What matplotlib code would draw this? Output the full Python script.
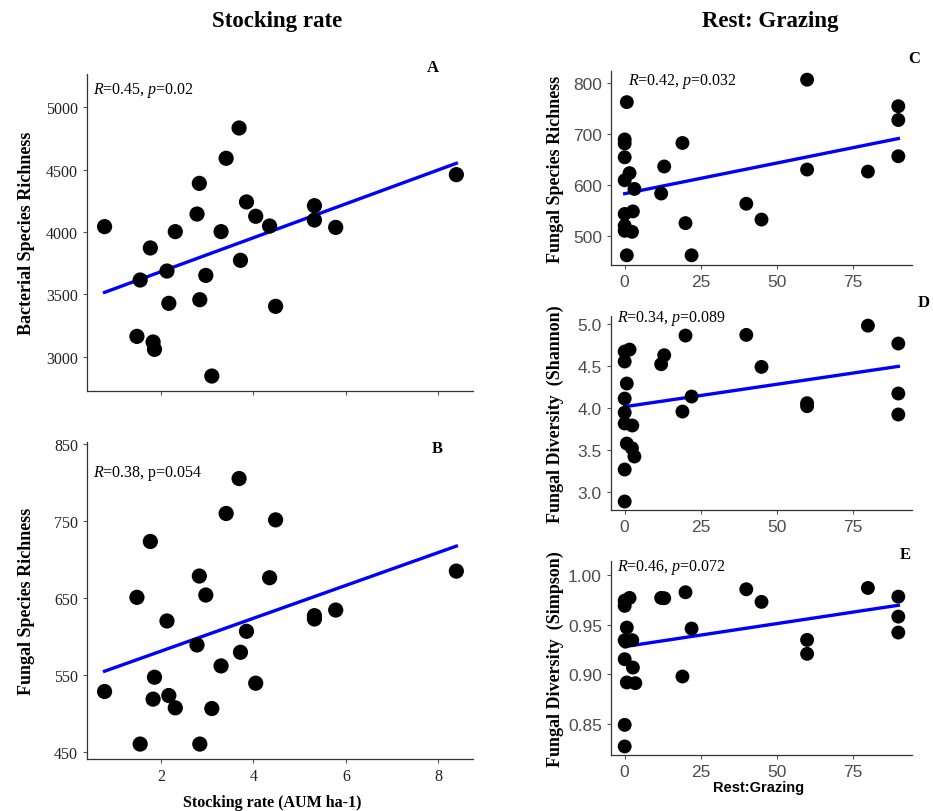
import numpy as np
import matplotlib
matplotlib.use("Agg")
import matplotlib.pyplot as plt

# ---- data ------------------------------------------------------------------
# stocking rate (AUM ha-1), panel A
stock_x = [0.78, 1.55, 1.48, 1.77, 1.83, 1.86, 2.13, 2.17, 2.31, 2.78, 2.83, 2.84, 2.97,
           3.10, 3.30, 3.41, 3.69, 3.72, 3.85, 4.05, 4.35, 4.48, 5.32, 5.32, 5.78, 8.39]
bact_rich = [4043, 3615, 3163, 3872, 3118, 3059, 3687, 3428, 4003, 4144, 4390, 3457, 3652,
             2845, 4003, 4591, 4834, 3773, 4241, 4126, 4048, 3404, 4211, 4096, 4037, 4460]
# panel B: same x positions, points ordered by its own reading
stock_xb = [0.78, 1.48, 1.55, 1.77, 1.83, 1.86, 2.13, 2.17, 2.31, 2.78, 2.83, 2.84, 2.97,
            3.10, 3.30, 3.41, 3.69, 3.72, 3.85, 4.05, 4.35, 4.48, 5.32, 5.32, 5.78, 8.39]
fung_rich_b = [528.7, 651.1, 460.4, 723.7, 518.8, 547.3, 620.4, 523.5, 507.5, 589.2, 678.8,
               460.4, 654.1, 506.6, 562.0, 760.1, 805.5, 579.7, 607.0, 539.5, 676.6, 751.8,
               627.3, 623.0, 634.6, 685.2]

# rest:grazing ratio
rg_c = [0.7, 0, 0, 0, 0, 1.6, 3.2, 0, 2.7, 0, 0, 2.4, 0.7,
        12, 13, 19, 20, 22, 40, 45, 60, 60, 80, 90, 90, 90]
fung_rich_c = [762, 689, 681, 654, 609, 623, 592, 543, 548, 520, 510, 508, 462,
               583, 636, 682, 525, 462, 563, 532, 806, 630, 626, 754, 727, 656]

rg_d = [0, 1.6, 0, 0.7, 0, 0, 0, 2.5, 0.7, 2.4, 3.2, 0, 0,
        12, 13, 19, 20, 22, 40, 45, 60, 60, 80, 90, 90, 90]
shannon_d = [4.667, 4.690, 4.548, 4.286, 4.107, 3.940, 3.810, 3.786, 3.571, 3.516, 3.417,
             3.262, 2.881, 4.516, 4.623, 3.952, 4.857, 4.131, 4.865, 4.484, 4.052, 4.016,
             4.975, 4.762, 4.167, 3.917]

rg_e = [0, 0, 1.6, 0.7, 0, 2.5, 0, 2.7, 0.7, 3.5, 0, 0, 0.3,
        12, 13, 20, 22, 19, 40, 45, 60, 60, 80, 90, 90, 90]
simpson_e = [0.9742, 0.9689, 0.9769, 0.9471, 0.9344, 0.9344, 0.9153, 0.9069, 0.8919,
             0.8912, 0.8493, 0.8276, 0.9330, 0.9769, 0.9766, 0.9826, 0.9461, 0.8979,
             0.9856, 0.9729, 0.9347, 0.9207, 0.9869, 0.9782, 0.9581, 0.9421]

# fitted regression lines (values at the ends of the x range)
fit_a = [3516, 4551]
fit_b = [555.1, 717.7]
fit_c = [582.7, 690.7]
fit_d = [4.01, 4.49]
fit_e = [0.928, 0.9695]

stats = ["$R$=0.45, $p$=0.02", "$R$=0.38, p=0.054", "$R$=0.42, $p$=0.032",
         "$R$=0.34, $p$=0.089", "$R$=0.46, $p$=0.072"]

# ---- figure ---------------------------------------------------------------
W, H = 933, 812
plt.rcParams["mathtext.fontset"] = "custom"
plt.rcParams["mathtext.it"] = "Liberation Serif:italic"
plt.rcParams["mathtext.rm"] = "Liberation Serif"
fig = plt.figure(figsize=(W / 100, H / 100), dpi=100)

def rect(l, t, r, b):
    return [l / W, 1 - b / H, (r - l) / W, (b - t) / H]

SERIF = "Liberation Serif"
SANS = "Liberation Sans"

def style(ax, tickfont, tickcolor, size):
    for s in ["top", "right"]:
        ax.spines[s].set_visible(False)
    for s in ["left", "bottom"]:
        ax.spines[s].set_color("#333333")
        ax.spines[s].set_linewidth(0.9)
    ax.tick_params(length=3, width=0.8, color="#555555", labelsize=size,
                   labelcolor=tickcolor)
    for lab in ax.get_xticklabels() + ax.get_yticklabels():
        lab.set_family(tickfont)

def panel(r, x, y, fit, xlim, ylim, yticks, xticks, ylabel, stat, letter,
          tickfont, tickcolor, tsize, ms, letter_xy, stat_xy):
    ax = fig.add_axes(rect(*r))
    ax.scatter(x, y, s=ms, color="black", zorder=3, edgecolors="none")
    ax.plot([min(x), max(x)], fit, color="#0000ff", lw=2.4, zorder=2)
    ax.set_xlim(xlim); ax.set_ylim(ylim)
    ax.set_xticks(xticks); ax.set_yticks(yticks)
    style(ax, tickfont, tickcolor, tsize)
    ax.set_ylabel(ylabel, family=SERIF, fontweight="bold", fontsize=13)
    ax.text(*stat_xy, stat, transform=ax.transAxes, family=SERIF, fontsize=11.5,
            va="center", ha="left")
    fig.text(letter_xy[0] / W, 1 - letter_xy[1] / H, letter, family=SERIF,
             fontweight="bold", fontsize=12, ha="center", va="center")
    return ax

axa = panel((87, 75, 473, 392), stock_x, bact_rich, fit_a, (0.4, 8.75), (2725, 5267),
            [3000, 3500, 4000, 4500, 5000], [2, 4, 6, 8], "Bacterial Species Richness",
            stats[0], "A", SERIF, "#222222", 11.5, 120, (433, 68), (0.015, 0.95))
axa.set_xticklabels([])
axa.yaxis.set_label_coords(-0.135, 0.5)

axb = panel((87, 443, 473, 760), stock_xb, fung_rich_b, fit_b, (0.4, 8.75), (441, 853),
            [450, 550, 650, 750, 850], [2, 4, 6, 8], "Fungal Species Richness",
            stats[1], "B", SERIF, "#222222", 11.5, 120, (437, 449), (0.015, 0.905))
axb.set_xlabel("Stocking rate (AUM ha-1)", family=SERIF, fontweight="bold", fontsize=11.5)
axb.xaxis.set_label_coords(0.48, -0.11)
axb.yaxis.set_label_coords(-0.135, 0.5)

rx = (-4.5, 94.5)
axc = panel((611, 72, 912, 266), rg_c, fung_rich_c, fit_c, rx, (443, 823),
            [500, 600, 700, 800], [0, 25, 50, 75], "Fungal Species Richness",
            stats[2], "C", SANS, "#4d4d4d", 12.5, 100, (914, 59), (0.055, 0.95))
axc.yaxis.set_label_coords(-0.155, 0.5)

axd = panel((611, 317, 912, 511), rg_d, shannon_d, fit_d, rx, (2.78, 5.09),
            [3.0, 3.5, 4.0, 4.5, 5.0], [0, 25, 50, 75], "Fungal Diversity  (Shannon)",
            stats[3], "D", SANS, "#4d4d4d", 12.5, 100, (924, 303), (0.02, 0.99))
axd.yaxis.set_label_coords(-0.155, 0.5)

axe = panel((611, 562, 912, 756), rg_e, simpson_e, fit_e, rx, (0.819, 1.014),
            [0.85, 0.90, 0.95, 1.00], [0, 25, 50, 75], "Fungal Diversity  (Simpson)",
            stats[4], "E", SANS, "#4d4d4d", 12.5, 100, (905, 555), (0.02, 0.97))
axe.yaxis.set_label_coords(-0.155, 0.5)
axe.set_yticklabels(["0.85", "0.90", "0.95", "1.00"], family=SANS)
axd.set_yticklabels(["3.0", "3.5", "4.0", "4.5", "5.0"], family=SANS)
axe.set_xlabel("Rest:Grazing", family=SANS, fontweight="bold", fontsize=10.5)
axe.xaxis.set_label_coords(0.49, -0.13)

fig.text(277 / W, 1 - 22 / H, "Stocking rate", family=SERIF, fontweight="bold",
         fontsize=16.5, ha="center", va="center")
fig.text(770 / W, 1 - 22 / H, "Rest: Grazing", family=SERIF, fontweight="bold",
         fontsize=16.5, ha="center", va="center")

fig.savefig("out.png", dpi=100)
